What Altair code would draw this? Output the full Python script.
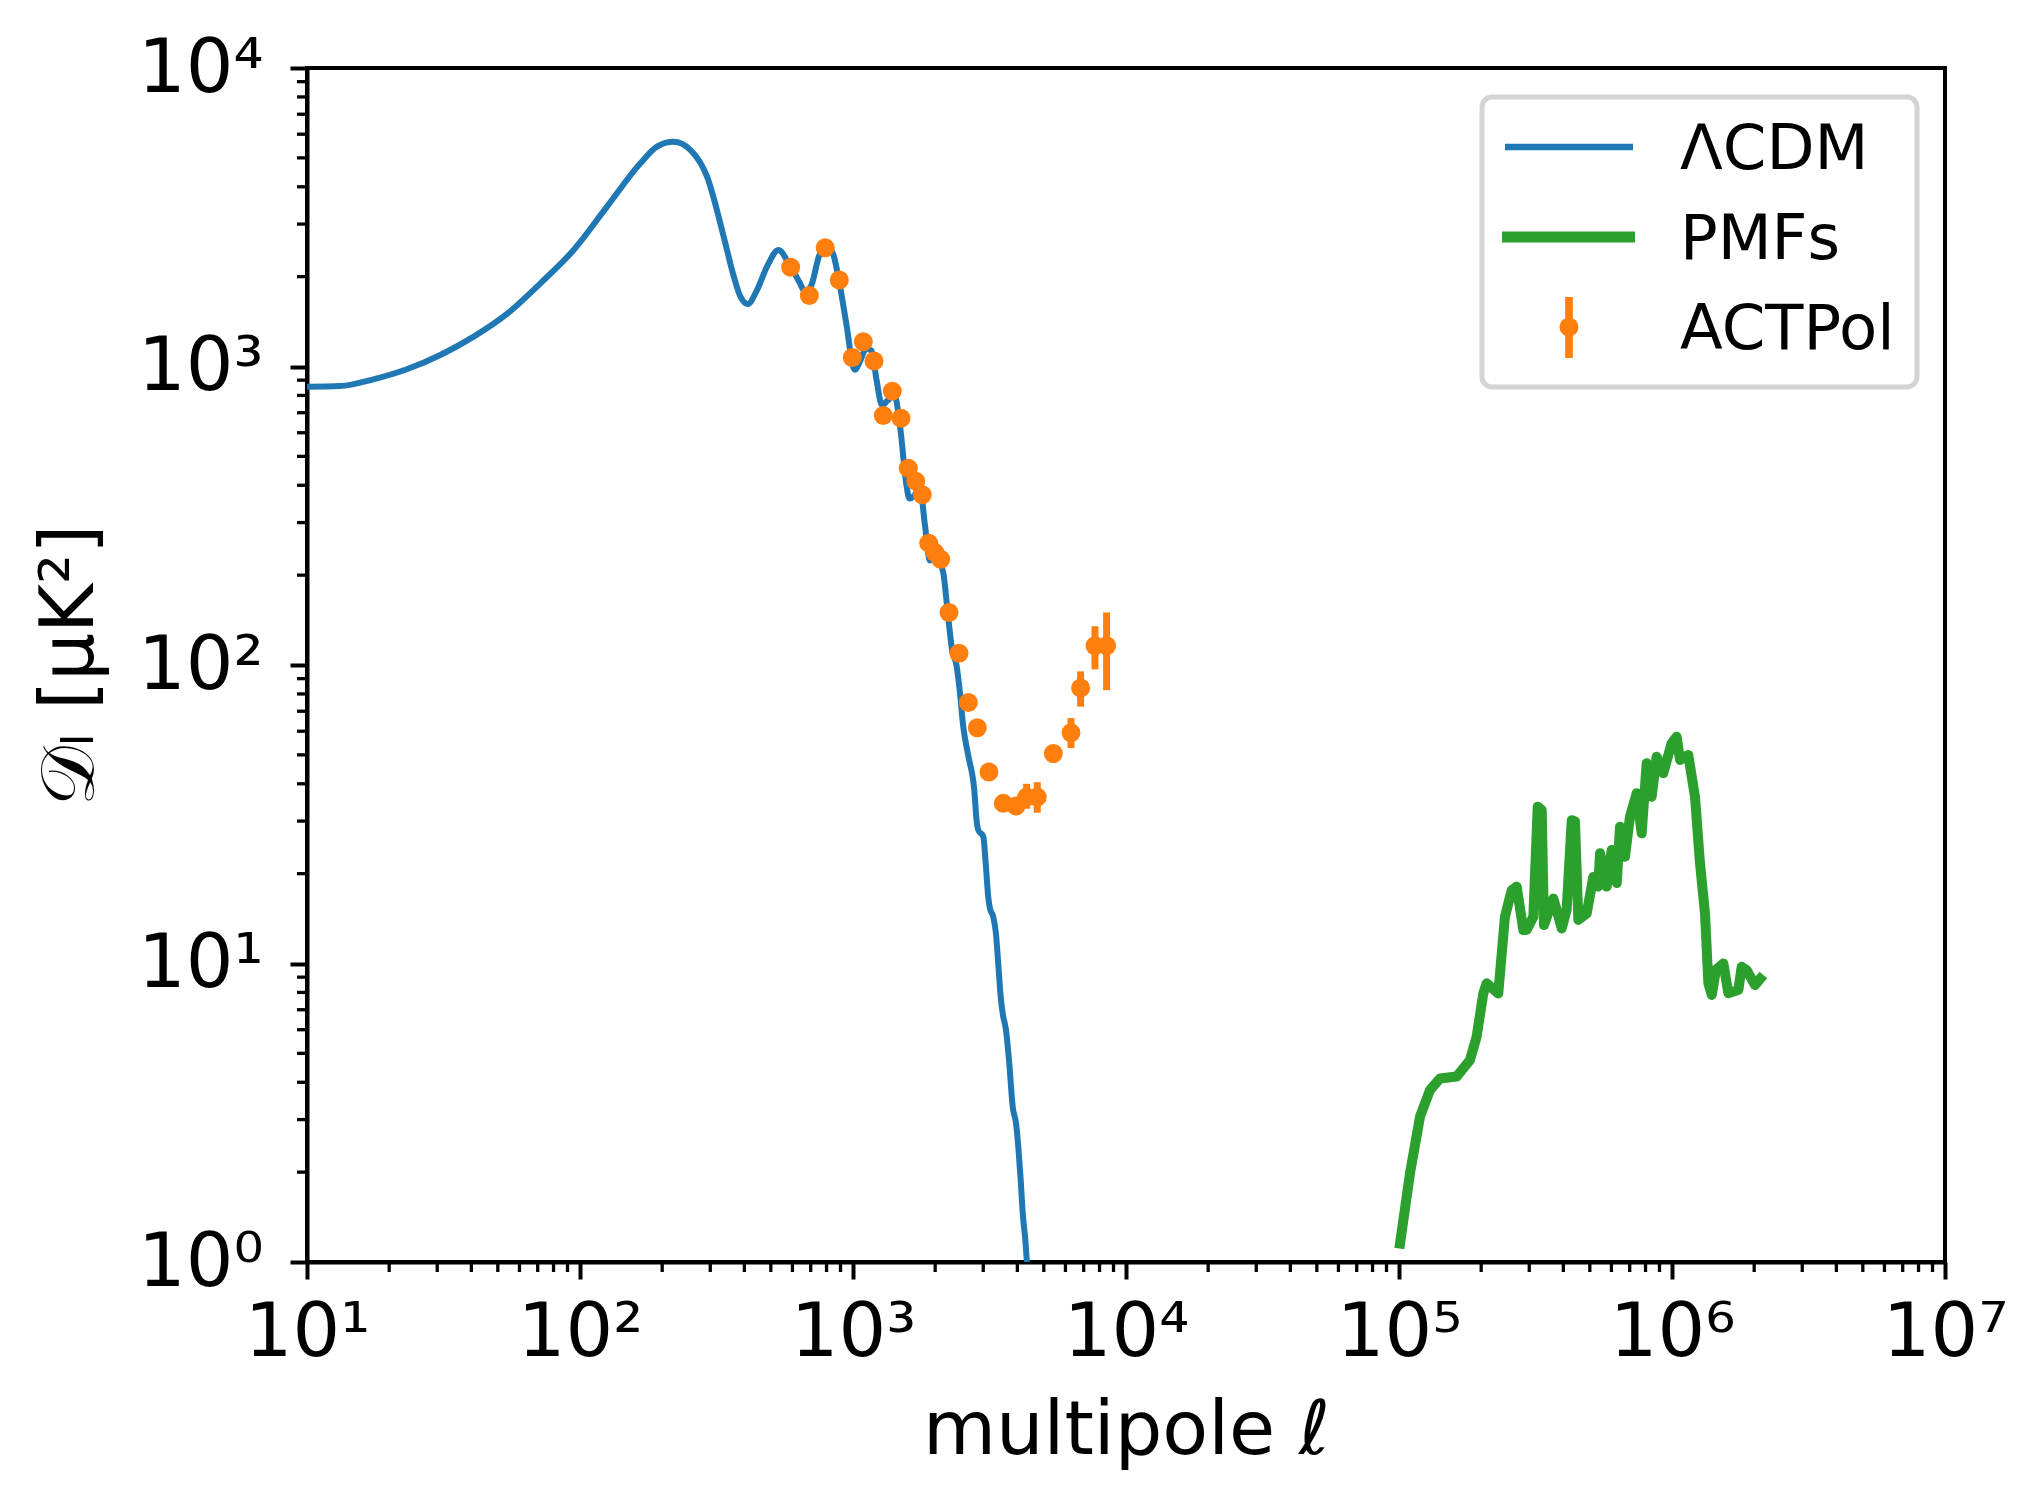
import altair as alt
import pandas as pd

# ---------------- data ----------------
# LambdaCDM theory curve
lcdm_ell = [10, 13.2, 17.5, 23.2, 30.8, 40.8, 54, 71.6, 94.8, 125.6,
            166.4, 191.5, 220, 254, 292, 336, 366, 387, 412, 445,
            484, 534, 581, 630, 667, 700, 753, 790, 817, 850,
            885, 950, 1000, 1020, 1060, 1120, 1170, 1220, 1277, 1340,
            1420, 1490, 1570, 1608, 1680, 1757, 1830, 1914, 1997, 2060,
            2143, 2228, 2311, 2393, 2460, 2535, 2640, 2782, 2838, 2877,
            3001, 3062, 3129, 3174, 3263, 3339, 3404, 3475, 3534, 3634,
            3736, 3846, 3954, 4032, 4115, 4185, 4278, 4329, 4400]
lcdm_D = [855, 860, 906, 979, 1093, 1259, 1500, 1900, 2457, 3431,
          4795, 5450, 5660, 5310, 4325, 2723, 2000, 1714, 1620, 1804,
          2160, 2457, 2217, 1950, 1790, 1850, 2362, 2520, 2500, 2350,
          1978, 1350, 1000, 975, 1040, 1150, 1130, 900, 742, 770,
          800, 620, 400, 361, 370, 398, 300, 224, 239, 225,
          203, 147, 111, 100, 82, 62, 50, 38, 30, 28,
          26.6, 21.7, 16.7, 15.3, 14.35, 12.6, 10.0, 7.74, 6.81, 5.99,
          4.63, 3.31, 2.92, 2.43, 1.88, 1.456, 1.185, 1.015, 0.85]

# PMF curve
pmf_ell = [100280, 109700, 119400, 129900, 141300, 162600, 181900, 192500, 203600, 209400,
           231000, 244400, 258600, 269800, 285300, 293500, 310500, 322200, 333200, 339700,
           367500, 378200, 394500, 411200, 429200, 441200, 453800, 486900, 515000, 537000,
           544900, 576400, 601300, 627500, 645000, 672600, 701500, 742400, 774200, 807700,
           842200, 878500, 929000, 997000, 1040000, 1070000, 1147000, 1214000, 1266000, 1321000,
           1359000, 1398000, 1449000, 1542000, 1608000, 1750000, 1800000, 1878000, 2014000, 2161000]
pmf_D = [1.11, 1.98, 3.07, 3.77, 4.12, 4.18, 4.75, 5.69, 7.94, 8.58,
         7.94, 14.35, 17.6, 18.1, 12.95, 12.95, 14.35, 33.5, 32.7, 13.45,
         16.5, 15.1, 13.1, 15.1, 30.2, 29.9, 14.0, 14.7, 19.5, 18.1,
         23.4, 18.1, 24.0, 18.6, 28.7, 22.8, 31.0, 37.2, 27.3, 46.9,
         36.2, 49.3, 43.4, 54.7, 57.5, 48.1, 49.9, 36.2, 21.7, 14.7,
         8.58, 7.85, 9.52, 10.0, 7.95, 8.15, 9.75, 9.5, 8.47, 9.15]

# ACTPol band powers with error bars
act_ell = [591, 692, 791, 891, 994, 1091, 1194, 1291, 1393, 1499,
           1594, 1697, 1794, 1894, 1997, 2095, 2247, 2445, 2645, 2853,
           3148, 3552, 3954, 4325, 4732, 5417, 6288, 6818, 7697, 8490]
act_D = [2151, 1730, 2500, 1950, 1072, 1210, 1044, 685, 827, 671,
         456, 413, 372, 256, 238, 226, 150, 109.5, 74.9, 61.6,
         43.8, 34.4, 33.7, 36.1, 36.1, 50.5, 59.3, 83.7, 116, 116]
act_lo = [2110, 1695, 2455, 1912, 1050, 1186, 1022, 670, 810, 656,
          445, 402, 362, 249, 231, 219, 145, 105.5, 71.5, 58.5,
          41.5, 32.5, 31.5, 33.0, 32.0, 47.0, 52.7, 72.5, 96.7, 82.4]
act_hi = [2195, 1765, 2545, 1990, 1095, 1235, 1066, 700, 845, 686,
          467, 424, 382, 263, 245, 233, 155, 113.5, 78.5, 64.8,
          46.2, 36.5, 36.0, 40.0, 40.5, 54.0, 66.4, 95.2, 134.9, 150]

# axis ticks
x_major = [1e1, 1e2, 1e3, 1e4, 1e5, 1e6, 1e7]
y_major = [1e0, 1e1, 1e2, 1e3, 1e4]
x_minor = [k * 10 ** e for e in range(1, 7) for k in range(2, 10)]
y_minor = [k * 10 ** e for e in range(0, 4) for k in range(2, 10)]

legend_labels = ["ΛCDM", "PMFs", "ACTPol"]

# ---------------- styling ----------------
W, H = 1638, 1194
FONT = "DejaVu Sans"
BLUE, ORANGE, GREEN = "#1f77b4", "#ff7f0e", "#2ca02c"

xscale = alt.Scale(type="log", domain=[10, 1e7], nice=False)
yscale = alt.Scale(type="log", domain=[1, 1e4], nice=False)

sup = "['\u2070','\u00b9','\u00b2','\u00b3','\u2074','\u2075','\u2076','\u2077']"
lab = "'10' + " + sup + "[round(log(datum.value)/LN10)]"

xaxis = alt.Axis(values=x_major, labelExpr=lab, title="multipole ℓ",
                 tickSize=17, tickWidth=4, labelPadding=76,
                 labelBaseline="alphabetic", labelAlign="center",
                 labelFlush=False, labelOverlap=False, labelBound=False,
                 titleX=W / 2, titleY=191, titleBaseline="alphabetic", titleAlign="center",
                 grid=False)
yaxis = alt.Axis(values=y_major, labelExpr=lab, title="𝒟\u2097 [μK²]",
                 tickSize=17, tickWidth=4, labelPadding=27,
                 labelBaseline="middle", labelAlign="right",
                 labelFlush=False, labelOverlap=False, labelBound=False,
                 titleX=-215, titleY=H / 2, titleAngle=270,
                 titleBaseline="alphabetic", titleAlign="center",
                 grid=False)

df_lcdm = pd.DataFrame({"ell": lcdm_ell, "D": lcdm_D})
df_pmf = pd.DataFrame({"ell": pmf_ell, "D": pmf_D})
df_act = pd.DataFrame({"ell": act_ell, "D": act_D, "lo": act_lo, "hi": act_hi})
df_xmin = pd.DataFrame({"ell": x_minor})
df_ymin = pd.DataFrame({"D": y_minor})
one = pd.DataFrame({"k": [0]})

X = alt.X("ell:Q", scale=xscale, axis=xaxis)
Y = alt.Y("D:Q", scale=yscale, axis=yaxis)

lcdm = alt.Chart(df_lcdm).mark_line(color=BLUE, strokeWidth=6, clip=True, strokeJoin="round",
                                    interpolate="monotone").encode(x=X, y=Y, order="ell:Q")
pmf = alt.Chart(df_pmf).mark_line(color=GREEN, strokeWidth=10, clip=True,
                                  strokeJoin="round").encode(x=X, y=Y, order="ell:Q")
err = alt.Chart(df_act).mark_rule(color=ORANGE, strokeWidth=7).encode(
    x=X, y=alt.Y("lo:Q", scale=yscale, axis=yaxis), y2="hi:Q")
pts = alt.Chart(df_act).mark_circle(color=ORANGE, size=360, opacity=1).encode(x=X, y=Y)
xminor = alt.Chart(df_xmin).mark_rule(color="black", strokeWidth=3.3).encode(
    x=X, y=alt.value(H), y2=alt.value(H + 10))
yminor = alt.Chart(df_ymin).mark_rule(color="black", strokeWidth=3.3).encode(
    y=Y, x=alt.value(0), x2=alt.value(-10))

# legend (decoration)
leg_box = alt.Chart(one).mark_rect(fill="white", stroke="#d4d4d4", strokeWidth=5, cornerRadius=10).encode(
    x=alt.value(1175), x2=alt.value(1610), y=alt.value(29), y2=alt.value(319))
leg_l1 = alt.Chart(one).mark_rule(color=BLUE, strokeWidth=6.5).encode(
    x=alt.value(1198), x2=alt.value(1326), y=alt.value(79))
leg_l2 = alt.Chart(one).mark_rule(color=GREEN, strokeWidth=11).encode(
    x=alt.value(1195), x2=alt.value(1328), y=alt.value(169))
leg_e = alt.Chart(one).mark_rule(color=ORANGE, strokeWidth=7.7).encode(
    x=alt.value(1262), y=alt.value(229), y2=alt.value(290))
leg_p = alt.Chart(one).mark_circle(color=ORANGE, size=360, opacity=1).encode(
    x=alt.value(1262), y=alt.value(259))
leg_txt = []
for lbl, yy in zip(legend_labels, [101, 191, 281]):
    leg_txt.append(alt.Chart(one).mark_text(align="left", baseline="alphabetic", fontSize=62.5,
                                            font=FONT, color="black").encode(
        x=alt.value(1373), y=alt.value(yy), text=alt.value(lbl)))

chart = alt.layer(lcdm, pmf, err, pts, xminor, yminor, leg_box, leg_l1, leg_l2, leg_e, leg_p, *leg_txt).properties(
    width=W, height=H,
    autosize=alt.AutoSizeParams(type="none"),
    padding={"left": 299, "top": 60, "right": 70, "bottom": 210},
    background="white",
).configure_view(
    stroke="black", strokeWidth=4
).configure_axis(
    domainColor="black", domainWidth=4, tickColor="black",
    labelFont=FONT, labelFontSize=75, labelColor="black",
    titleFont=FONT, titleFontSize=75, titleFontWeight="normal", titleColor="black",
)

chart.save("out.html", embed_options={"renderer": "svg", "actions": False})
